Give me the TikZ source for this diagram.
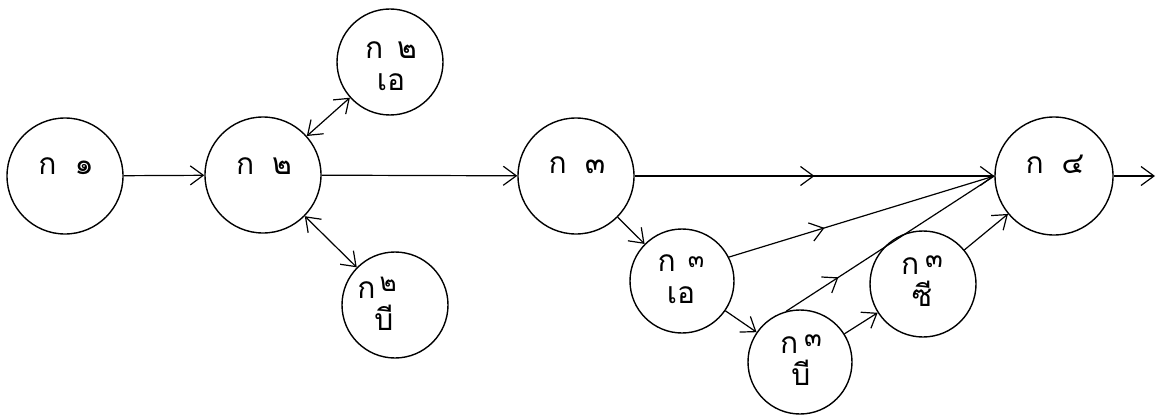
\documentclass[tikz,border=0pt]{standalone}
\usepackage{fontspec}
\newfontfamily\thaifont[Script=Thai]{Loma}
\usetikzlibrary{arrows.meta,decorations.markings}
\tikzset{
  state/.style={circle,draw,line width=1.4pt,inner sep=0pt,minimum size=#1},
  lbl/.style={font=\thaifont\fontsize{30}{32}\selectfont,align=center,inner sep=0pt},
  edge/.style={line width=1.2pt},
  tip/.style={-{Straight Barb[length=13pt,width=19pt,line width=1.2pt]}},
  bitip/.style={{Straight Barb[length=13pt,width=19pt,line width=1.2pt]}-{Straight Barb[length=13pt,width=19pt,line width=1.2pt]}},
  midarrow/.style={postaction={decorate},decoration={markings,mark=at position #1 with {\arrow{Straight Barb[length=13pt,width=19pt,line width=1.2pt]}}}}
}
\begin{document}
\begin{tikzpicture}[x=1pt,y=-1pt]
\useasboundingbox (0,0) rectangle (1161,417);
% nodes
\node[state=116] (a1) at (65,176) {};
\node[lbl] (t1) at (66,166) {ก\hspace{18pt}๑};
\node[state=116] (a2) at (263,175) {};
\node[lbl] (t2) at (264,166) {ก\hspace{18pt}๒};
\node[state=106] (a2A) at (390,62) {};
\node[lbl] (t2A) at (391,66) {ก\hspace{14pt}๒\\เอ};
\node[state=106] (a2B) at (395,305) {};
\node[lbl] (t2B) at (377,304) {ก\hspace{4pt}\raisebox{7pt}{\fontsize{26}{26}\selectfont ๒}\\\hspace*{14pt}บี};
\node[state=116] (a3) at (576,176) {};
\node[lbl] (t3) at (577,165) {ก\hspace{18pt}๓};
\node[state=104] (a3A) at (682,281) {};
\node[lbl] (t3A) at (681,279) {ก\hspace{12pt}\raisebox{4pt}{\fontsize{24}{24}\selectfont ๓}\\เอ};
\node[state=104] (a3B) at (800,362) {};
\node[lbl] (t3B) at (801,360) {ก\hspace{6pt}\raisebox{7pt}{\fontsize{26}{26}\selectfont ๓}\\บี};
\node[state=106] (a3C) at (923,284) {};
\node[lbl] (t3C) at (922,281) {ก\hspace{6pt}\raisebox{7pt}{\fontsize{26}{26}\selectfont ๓}\\ซี};
\node[state=118] (a4) at (1054,176) {};
\node[lbl] (t4) at (1055,164) {ก\hspace{18pt}๔};
\coordinate (out) at (1155,176);
% connectors
\draw[edge,tip] (a1) -- (a2);
\draw[edge,bitip] (a2) -- (a2A);
\draw[edge,bitip] (a2) -- (a2B);
\draw[edge,tip] (a2) -- (a3);
\draw[edge,tip,midarrow=0.5] (a3) -- (a4.west);
\draw[edge,tip] (a3) -- (a3A);
\draw[edge,midarrow=0.36] (a3A.27) -- (a4.west);
\draw[edge,tip] (a3A) -- (a3B);
\draw[edge,midarrow=0.25] (a3B.105) -- (a4.west);
\draw[edge,tip] (a3B) -- (a3C);
\draw[edge,tip] (a3C) -- (a4);
\draw[edge,tip] (a4) -- (out);
\end{tikzpicture}
\end{document}
